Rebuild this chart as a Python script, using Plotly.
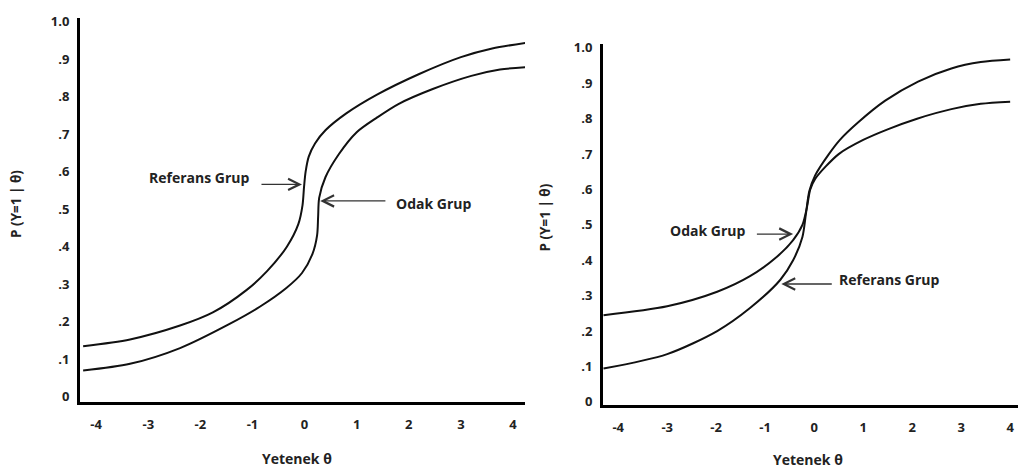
import plotly.graph_objects as go

# ---------------- data ----------------
X_TICKS = [-4, -3, -2, -1, 0, 1, 2, 3, 4]
X_LABELS = ["-4", "-3", "-2", "-1", "0", "1", "2", "3", "4"]
Y_TICKS = [0, 0.1, 0.2, 0.3, 0.4, 0.5, 0.6, 0.7, 0.8, 0.9, 1.0]
Y_LABELS = ["0", ".1", ".2", ".3", ".4", ".5", ".6", ".7", ".8", ".9", "1.0"]

# Left panel
left_ref_theta = [-4.25, -3.35, -2.39, -1.76, -1.11, -0.72, -0.34, -0.12, -0.04, -0.01,
                  0.02, 0.08, 0.2, 0.4, 0.8, 1.39, 2.2, 3.0, 3.6, 4.25]
left_ref_p = [0.135, 0.153, 0.19, 0.225, 0.285, 0.335, 0.40, 0.46, 0.51, 0.56,
              0.60, 0.64, 0.675, 0.71, 0.755, 0.805, 0.86, 0.905, 0.928, 0.943]
left_odak_theta = [-4.25, -3.35, -2.39, -1.43, -0.86, -0.35, -0.05, 0.15, 0.24, 0.26,
                   0.28, 0.4, 0.65, 1.0, 1.4, 1.8, 2.46, 3.2, 3.75, 4.25]
left_odak_p = [0.07, 0.088, 0.13, 0.195, 0.24, 0.29, 0.33, 0.38, 0.43, 0.48,
               0.53, 0.585, 0.645, 0.705, 0.745, 0.78, 0.82, 0.855, 0.872, 0.878]

# Right panel
right_odak_theta = [-4.3, -3.0, -1.98, -1.31, -0.76, -0.43, -0.24, -0.15, -0.08, 0.02,
                    0.5, 1.0, 1.5, 2.1, 2.8, 3.4, 4.0]
right_odak_p = [0.245, 0.27, 0.311, 0.355, 0.41, 0.457, 0.50, 0.548, 0.60, 0.63,
                0.70, 0.74, 0.77, 0.80, 0.827, 0.842, 0.848]
right_ref_theta = [-4.3, -3.0, -1.98, -1.31, -0.69, -0.43, -0.24, -0.17, -0.1, 0.02,
                   0.3, 0.53, 0.9, 1.45, 2.12, 2.8, 3.4, 4.0]
right_ref_p = [0.094, 0.135, 0.20, 0.265, 0.345, 0.40, 0.466, 0.53, 0.595, 0.64,
               0.70, 0.741, 0.79, 0.851, 0.905, 0.942, 0.96, 0.967]

# ---------------- figure ----------------
W, H = 1018, 476
FONT = "Open Sans"
TXT = "#222222"

fig = go.Figure()
line = dict(color="#111111", width=2, shape="spline", smoothing=0.8)
fig.add_trace(go.Scatter(x=left_ref_theta, y=left_ref_p, mode="lines", line=line,
                         name="Referans Grup", xaxis="x", yaxis="y"))
fig.add_trace(go.Scatter(x=left_odak_theta, y=left_odak_p, mode="lines", line=line,
                         name="Odak Grup", xaxis="x", yaxis="y"))
fig.add_trace(go.Scatter(x=right_odak_theta, y=right_odak_p, mode="lines", line=line,
                         name="Odak Grup", xaxis="x2", yaxis="y2"))
fig.add_trace(go.Scatter(x=right_ref_theta, y=right_ref_p, mode="lines", line=line,
                         name="Referans Grup", xaxis="x2", yaxis="y2"))

tickfont = dict(family=FONT, size=13, color=TXT, weight="bold")


def xax(domain, rng, anchor):
    return dict(domain=domain, range=rng, anchor=anchor, showline=True, linewidth=3,
                linecolor="black", showgrid=False, zeroline=False,
                tickvals=X_TICKS, ticktext=X_LABELS, ticks="outside", ticklen=9,
                tickcolor="rgba(0,0,0,0)", tickfont=tickfont, fixedrange=True,
                ticklabeloverflow="allow")


def yax(domain, rng, anchor):
    return dict(domain=domain, range=rng, anchor=anchor, showline=True, linewidth=3,
                linecolor="black", showgrid=False, zeroline=False,
                tickvals=Y_TICKS, ticktext=Y_LABELS, ticks="outside", ticklen=5,
                tickcolor="rgba(0,0,0,0)", tickfont=tickfont, fixedrange=True,
                ticklabeloverflow="allow")


fig.update_layout(
    width=W, height=H,
    margin=dict(l=0, r=0, t=0, b=0),
    paper_bgcolor="white", plot_bgcolor="white",
    showlegend=False,
    xaxis=xax([80 / W, 525 / W], [-4.31, 4.23], "y"),
    yaxis=yax([(H - 406) / H, (H - 12) / H], [-0.013, 1.01], "x"),
    xaxis2=xax([603 / W, 1.0], [-4.31, 4.16], "y2"),
    yaxis2=yax([(H - 409) / H, (H - 39) / H], [-0.008, 1.011], "x2"),
)

ann_font = dict(family=FONT, size=14, color=TXT, weight="bold")
title_font = dict(family=FONT, size=14, color=TXT, weight="bold")
ytitle_font = dict(family=FONT, size=13.5, color=TXT, weight="bold")

anns = []
# text labels
for xr, yr, x, y, t in [
    ("x", "y", -2.01, 0.584, "Referans Grup"),
    ("x", "y", 2.48, 0.514, "Odak Grup"),
    ("x2", "y2", -2.18, 0.485, "Odak Grup"),
    ("x2", "y2", 1.53, 0.347, "Referans Grup"),
]:
    anns.append(dict(xref=xr, yref=yr, x=x, y=y, text=t, showarrow=False, font=ann_font,
                     xanchor="center", yanchor="middle"))

# arrows (head at x,y; tail at ax,ay)
for xr, yr, x, y, ax, ay in [
    ("x", "y", -0.05, 0.566, -0.856, 0.566),
    ("x", "y", 0.30, 0.522, 1.58, 0.522),
    ("x2", "y2", -0.43, 0.474, -1.20, 0.474),
    ("x2", "y2", -0.67, 0.333, 0.39, 0.333),
]:
    anns.append(dict(xref=xr, yref=yr, axref=xr, ayref=yr, x=x, y=y, ax=ax, ay=ay,
                     text="", showarrow=True, arrowhead=5, arrowsize=1.6,
                     arrowwidth=1.4, arrowcolor="#333333"))

# axis titles
anns += [
    dict(xref="paper", yref="paper", x=297 / W, y=(H - 464) / H, text="Yetenek θ",
         showarrow=False, font=title_font, xanchor="center", yanchor="middle"),
    dict(xref="paper", yref="paper", x=808 / W, y=(H - 465) / H, text="Yetenek θ",
         showarrow=False, font=title_font, xanchor="center", yanchor="middle"),
    dict(xref="paper", yref="paper", x=16 / W, y=(H - 203) / H, text="P (Y=1 | θ)",
         textangle=-90, showarrow=False, font=ytitle_font, xanchor="center",
         yanchor="middle"),
    dict(xref="paper", yref="paper", x=545 / W, y=(H - 217) / H, text="P (Y=1 | θ)",
         textangle=-90, showarrow=False, font=ytitle_font, xanchor="center",
         yanchor="middle"),
]
fig.update_layout(annotations=anns)

fig.write_html("out.html", config={"displayModeBar": False},
               post_script="document.body.style.margin='0';")
